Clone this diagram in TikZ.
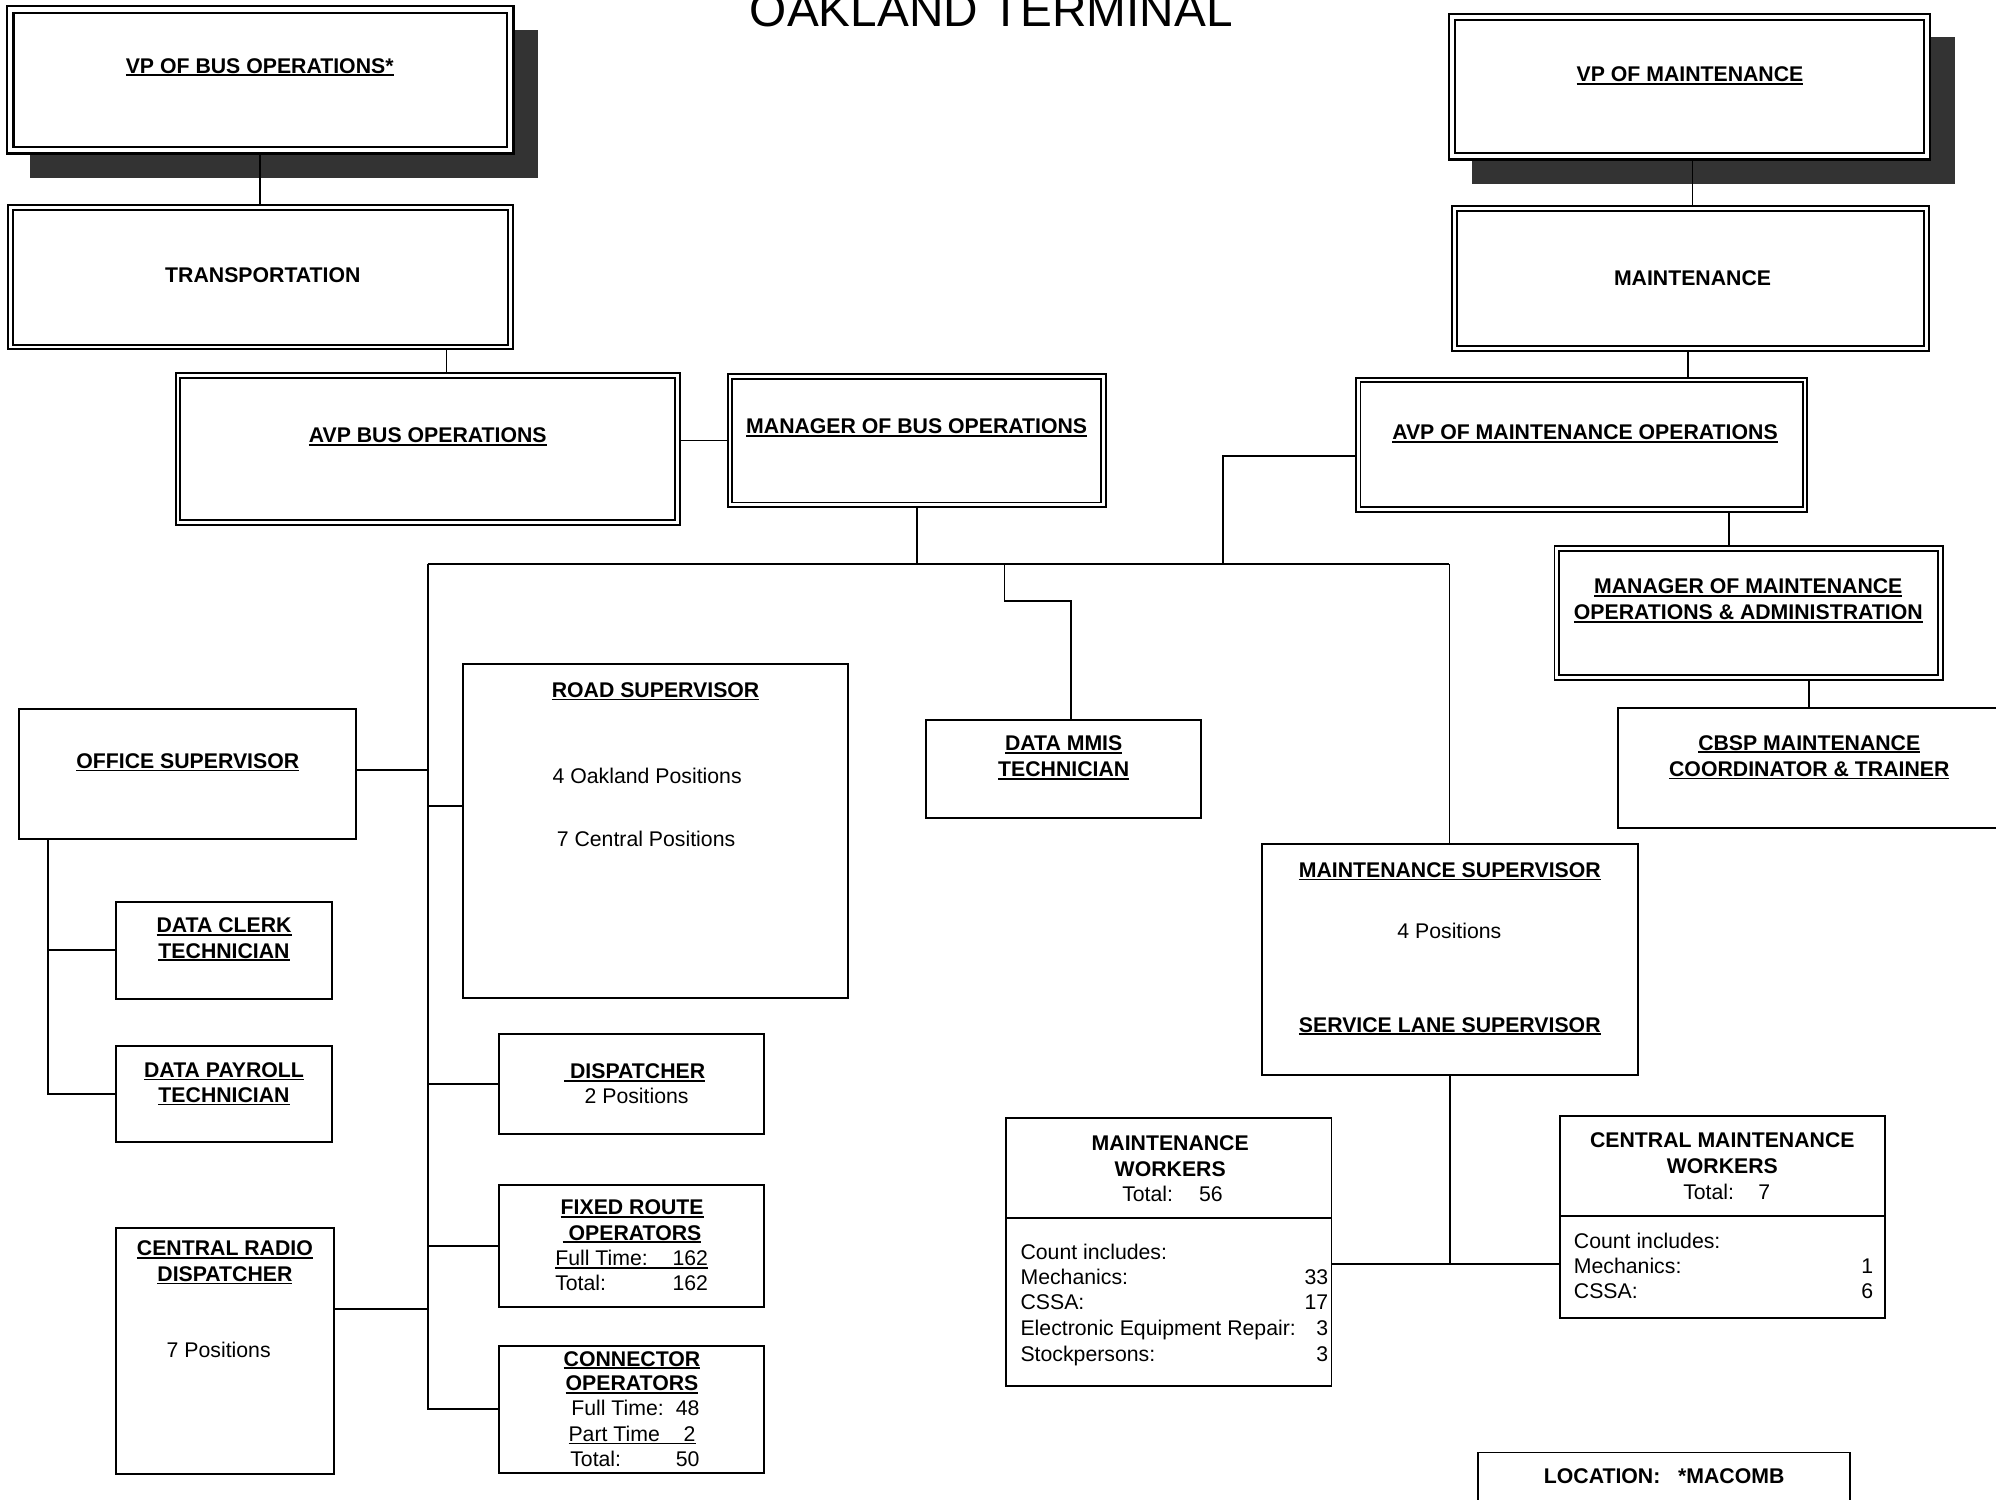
\documentclass[tikz,border=0pt]{standalone}
\usepackage{fontspec}
\setmainfont{Liberation Sans}
\usetikzlibrary{backgrounds}
\definecolor{shadowgray}{HTML}{333333}
% underlined text with a rule just below the baseline
\newcommand\uln[1]{\setbox0=\hbox{#1}\rlap{\rule[-2.2pt]{\wd0}{1.2pt}}\box0}

\begin{document}
\begin{tikzpicture}[x=1pt, y=-1pt,
  font=\fontsize{16.7}{20}\selectfont,
  dblbox/.style={draw, double=white, line width=1.5pt, double distance=2.2pt, fill=white, inner sep=0pt, outer sep=2.6pt},
  vpframe/.style={draw, double=white, line width=1.8pt, double distance=3.4pt, fill=white, inner sep=0pt, outer sep=3.5pt},
  box/.style={draw, line width=1.5pt, fill=white, inner sep=0pt, outer sep=0.75pt},
  link/.style={line width=1.4pt},
  hd/.style={anchor=base, inner sep=0pt, font=\fontsize{16.7}{20}\selectfont\bfseries},
  tx/.style={anchor=base, inner sep=0pt}]

\useasboundingbox (0,0) rectangle (1568,1178);

% ---------- boxes ----------
\node[vpframe, minimum width=392.75pt, minimum height=110.55pt] (vpbus) at (204.3,62.7) {};
\node[vpframe, minimum width=373.2pt, minimum height=109.35pt] (vpmaint) at (1327.2,68.0) {};
\node[dblbox, minimum width=392.4pt, minimum height=109.7pt] (trans) at (204.6,217.7) {};
\node[dblbox, minimum width=392.25pt, minimum height=115.4pt] (avpbus) at (336.0,352.6) {};
\node[dblbox, minimum width=293.2pt, minimum height=100.7pt] (mgrbus) at (720.1,346.25) {};
\node[dblbox, minimum width=371.1pt, minimum height=110pt] (maint) at (1327.95,219) {};
\node[dblbox, minimum width=351pt, minimum height=101.5pt] (avpmaint) at (1242.4,349.25) {};
\node[dblbox, minimum width=301.3pt, minimum height=101.2pt] (mgrmaint) at (1373.65,481.6) {};

\node[box, minimum width=264.5pt, minimum height=102.3pt] (offsup) at (147.45,608.15) {};
\node[box, minimum width=302pt, minimum height=262.1pt] (roadsup) at (515,652.65) {};
\node[box, minimum width=215.8pt, minimum height=76.7pt] (datmmis) at (835.5,603.95) {};
\node[box, minimum width=303.7pt, minimum height=93.8pt] (cbsp) at (1423.15,603.3) {};
\node[box, minimum width=169.1pt, minimum height=76.5pt] (dclerk) at (175.95,746.55) {};
\node[box, minimum width=169.4pt, minimum height=75.7pt] (dpay) at (175.8,859.55) {};
\node[box, minimum width=171.7pt, minimum height=193.5pt] (crd) at (176.75,1061.15) {};
\node[box, minimum width=208.2pt, minimum height=78.6pt] (disp) at (496.3,851.5) {};
\node[box, minimum width=208.2pt, minimum height=95.6pt] (fro) at (496.3,978.7) {};
\node[box, minimum width=208.2pt, minimum height=99.6pt] (conn) at (496.3,1107.1) {};
\node[box, minimum width=295.9pt, minimum height=182pt] (msup) at (1139.15,753.8) {};
\node[box, minimum width=255.5pt, minimum height=210.9pt] (mw) at (918.25,983.55) {};
\node[box, minimum width=255pt, minimum height=158.8pt] (cmw) at (1353.2,955.8) {};
\node[box, line width=1.2pt, minimum width=292.4pt, minimum height=68.9pt] (loc) at (1307.1,1175.55) {};

% drop shadows of the two VP boxes
\begin{pgfonlayer}{background}
  \fill[shadowgray] ([shift={(19.4,19.4)}]vpbus.north west) rectangle ([shift={(18.8,18)}]vpbus.south east);
  \fill[shadowgray] ([shift={(19.4,19.4)}]vpmaint.north west) rectangle ([shift={(18.8,18)}]vpmaint.south east);
\end{pgfonlayer}

% dividers inside the worker boxes
\coordinate (dv1) at (0,957);
\coordinate (dv2) at (0,955.3);
\draw[box] (mw.west |- dv1) -- (mw.east |- dv1);
\draw[box] (cmw.west |- dv2) -- (cmw.east |- dv2);

% ---------- connectors ----------
\coordinate (busL) at (336,443.3);
\coordinate (busR) at (1138.6,443.3);
\coordinate (j1) at (350.7,0);
\coordinate (j2) at (960.9,0);
\coordinate (j3) at (37.7,0);
\coordinate (j4) at (789.1,0);
\coordinate (j5) at (841.1,0);
\coordinate (j6) at (1329.6,0);
\coordinate (j7) at (1326.3,0);
\coordinate (j8) at (1358.5,0);
\coordinate (j9) at (1420.9,0);
\coordinate (r1) at (0,346);
\coordinate (r2) at (0,358);
\coordinate (r3) at (0,604.9);
\coordinate (r4) at (0,632.9);
\coordinate (r5) at (0,1028);
\coordinate (r6) at (0,471.9);
\coordinate (r7) at (0,992.7);

\draw[link] (vpbus.south) -- (vpbus.south |- trans.north);
\draw[link] (j1 |- trans.south) -- (j1 |- avpbus.north);
\draw[link] (avpbus.east |- r1) -- (mgrbus.west |- r1);
\draw[link] (mgrbus.south) -- (mgrbus.south |- busL);
\draw[link] (busL) -- (busR);
\draw[link] (avpmaint.west |- r2) -- (j2 |- r2) -- (j2 |- busL);
\draw[link] (busL) -- (busL |- conn.west) -- (conn.west);
\draw[link] (offsup.east |- r3) -- (busL |- r3);
\draw[link] (busL |- r4) -- (roadsup.west |- r4);
\draw[link] (busL |- disp.west) -- (disp.west);
\draw[link] (busL |- fro.west) -- (fro.west);
\draw[link] (crd.east |- r5) -- (busL |- r5);
\draw[link] (j3 |- offsup.south) -- (j3 |- dpay.west) -- (dpay.west);
\draw[link] (j3 |- dclerk.west) -- (dclerk.west);
\draw[link] (j4 |- busL) -- (j4 |- r6) -- (j5 |- r6) -- (j5 |- datmmis.north);
\draw[link] (busR) -- (busR |- msup.north);
\draw[link] (msup.south) -- (msup.south |- r7);
\draw[link] (mw.east |- r7) -- (cmw.west |- r7);
\draw[link] (j6 |- vpmaint.south) -- (j6 |- maint.north);
\draw[link] (j7 |- maint.south) -- (j7 |- avpmaint.north);
\draw[link] (j8 |- avpmaint.south) -- (j8 |- mgrmaint.north);
\draw[link] (j9 |- mgrmaint.south) -- (j9 |- cbsp.north);

% ---------- texts ----------
\node[tx, font=\fontsize{37.5}{40}\selectfont] (title) at (778.7,21) {OAKLAND TERMINAL};

\node[hd] (vpbus-t) at (204,57.5) {\uln{VP OF BUS OPERATIONS*}};
\node[hd] (vpmaint-t) at (1327.6,64.2) {\uln{VP OF MAINTENANCE}};
\node[hd] (trans-t) at (206.5,222.2) {TRANSPORTATION};
\node[hd] (maint-t) at (1329.6,224.1) {MAINTENANCE};
\node[hd] (avpbus-t) at (336,347.8) {\uln{AVP BUS OPERATIONS}};
\node[hd] (mgrbus-t) at (720.1,340.9) {\uln{MANAGER OF BUS OPERATIONS}};
\node[hd] (avpmaint-t) at (1245.1,345.6) {\uln{AVP OF MAINTENANCE OPERATIONS}};
\node[hd] (mgrmaint-t1) at (1373.4,466.6) {\uln{MANAGER OF MAINTENANCE}};
\node[hd] (mgrmaint-t2) at (1373.4,487) {\uln{OPERATIONS \& ADMINISTRATION}};
\node[hd] (cbsp-t1) at (1421.3,589.2) {\uln{CBSP MAINTENANCE}};
\node[hd] (cbsp-t2) at (1421.3,610.1) {\uln{COORDINATOR \& TRAINER}};

\node[hd] (offsup-t) at (147.5,603.6) {\uln{OFFICE SUPERVISOR}};
\node[hd] (roadsup-t) at (515,547.9) {\uln{ROAD SUPERVISOR}};
\node[tx] (roadsup-a) at (508.4,615.4) {4 Oakland Positions};
\node[tx] (roadsup-b) at (507.5,665.1) {7 Central Positions};
\node[hd] (datmmis-t1) at (835.6,589.8) {\uln{DATA MMIS}};
\node[hd] (datmmis-t2) at (835.6,610.2) {\uln{TECHNICIAN}};
\node[hd] (dclerk-t1) at (176,732.7) {\uln{DATA CLERK}};
\node[hd] (dclerk-t2) at (176,752.6) {\uln{TECHNICIAN}};
\node[hd] (dpay-t1) at (176,846.3) {\uln{DATA PAYROLL}};
\node[hd] (dpay-t2) at (176,866.2) {\uln{TECHNICIAN}};
\node[hd] (crd-t1) at (176.7,986.6) {\uln{CENTRAL RADIO}};
\node[hd] (crd-t2) at (176.7,1006.8) {\uln{DISPATCHER}};
\node[tx] (crd-t3) at (171.8,1066.2) {7 Positions};

\node[hd] (disp-t1) at (498.6,847.4) {\uln{\ DISPATCHER}};
\node[tx] (disp-t2) at (500.1,866.7) {2 Positions};
\node[hd] (fro-t1) at (496.6,954.4) {\uln{FIXED ROUTE}};
\node[hd] (fro-t2) at (496.5,974.1) {\uln{\ OPERATORS}};
\node[tx, anchor=base west] (fro-t3) at (436,994.5) {\uln{\hbox to 120pt{Full Time:\hfill 162}}};
\node[tx, anchor=base west] (fro-t4) at (436,1014.1) {\hbox to 120pt{Total:\hfill 162}};
\node[hd] (conn-t1) at (496.5,1073.1) {\uln{CONNECTOR}};
\node[hd] (conn-t2) at (496.5,1092.7) {\uln{OPERATORS}};
\node[tx, anchor=base west] (conn-t3) at (448.6,1112) {\hbox to 100.7pt{Full Time:\hfill 48}};
\node[tx, anchor=base west] (conn-t4) at (446.4,1132.5) {\uln{\hbox to 99.8pt{Part Time\hfill 2}}};
\node[tx, anchor=base west] (conn-t5) at (447.8,1152.2) {\hbox to 101.5pt{Total:\hfill 50}};

\node[hd] (msup-t1) at (1138.9,689.4) {\uln{MAINTENANCE SUPERVISOR}};
\node[tx] (msup-t2) at (1138.6,737.6) {4 Positions};
\node[hd] (msup-t3) at (1138.9,810.8) {\uln{SERVICE LANE SUPERVISOR}};

\node[hd] (mw-t1) at (919.3,903.6) {MAINTENANCE};
\node[hd] (mw-t2) at (919.3,924) {WORKERS};
\node[tx, anchor=base west] (mw-t3) at (881.4,944.1) {\hbox to 78.9pt{Total:\hfill 56}};
\node[tx, anchor=base west] (mw-c) at (801.5,989.3) {Count includes:};
\node[tx, anchor=base west] (mw-l1) at (801.5,1009) {Mechanics:};
\node[tx, anchor=base east] (mw-n1) at (1043.6,1009) {33};
\node[tx, anchor=base west] (mw-l2) at (801.5,1028.4) {CSSA:};
\node[tx, anchor=base east] (mw-n2) at (1043.6,1028.4) {17};
\node[tx, anchor=base west] (mw-l3) at (801.5,1048.8) {Electronic Equipment Repair:};
\node[tx, anchor=base east] (mw-n3) at (1043.6,1048.8) {3};
\node[tx, anchor=base west] (mw-l4) at (801.5,1069.2) {Stockpersons:};
\node[tx, anchor=base east] (mw-n4) at (1043.6,1069.2) {3};

\node[hd] (cmw-t1) at (1353,901.6) {CENTRAL MAINTENANCE};
\node[hd] (cmw-t2) at (1353,922) {WORKERS};
\node[tx, anchor=base west] (cmw-t3) at (1322.1,942.4) {\hbox to 68.4pt{Total:\hfill 7}};
\node[tx, anchor=base west] (cmw-c) at (1236.2,980.8) {Count includes:};
\node[tx, anchor=base west] (cmw-l1) at (1236.2,1000.6) {Mechanics:};
\node[tx, anchor=base east] (cmw-n1) at (1471.8,1000.6) {1};
\node[tx, anchor=base west] (cmw-l2) at (1236.2,1020.3) {CSSA:};
\node[tx, anchor=base east] (cmw-n2) at (1471.8,1020.3) {6};

\node[hd] (loc-t) at (1307.3,1165.2) {LOCATION:\ \ \ *MACOMB};

\end{tikzpicture}
\end{document}
